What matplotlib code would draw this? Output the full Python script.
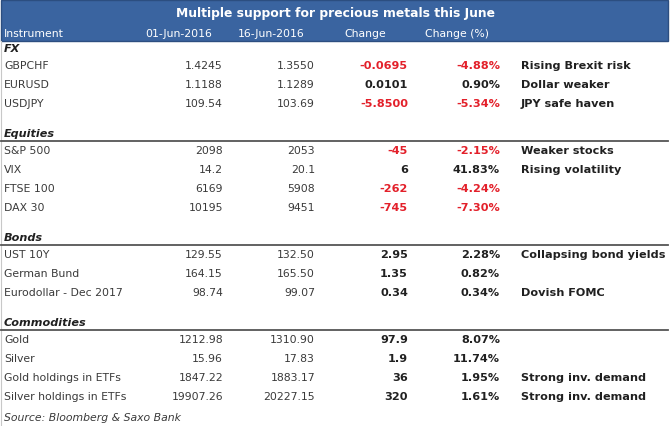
import matplotlib
matplotlib.use("Agg")
import matplotlib.pyplot as plt

title = "Multiple support for precious metals this June"
col_headers = ["Instrument", "01-Jun-2016", "16-Jun-2016", "Change", "Change (%)"]
source = "Source: Bloomberg & Saxo Bank"

sections = ["FX", "Equities", "Bonds", "Commodities"]
instruments = [
    ["GBPCHF", "EURUSD", "USDJPY"],
    ["S&P 500", "VIX", "FTSE 100", "DAX 30"],
    ["UST 10Y", "German Bund", "Eurodollar - Dec 2017"],
    ["Gold", "Silver", "Gold holdings in ETFs", "Silver holdings in ETFs"],
]
jun01 = [
    ["1.4245", "1.1188", "109.54"],
    ["2098", "14.2", "6169", "10195"],
    ["129.55", "164.15", "98.74"],
    ["1212.98", "15.96", "1847.22", "19907.26"],
]
jun16 = [
    ["1.3550", "1.1289", "103.69"],
    ["2053", "20.1", "5908", "9451"],
    ["132.50", "165.50", "99.07"],
    ["1310.90", "17.83", "1883.17", "20227.15"],
]
change = [
    ["-0.0695", "0.0101", "-5.8500"],
    ["-45", "6", "-262", "-745"],
    ["2.95", "1.35", "0.34"],
    ["97.9", "1.9", "36", "320"],
]
change_pct = [
    ["-4.88%", "0.90%", "-5.34%"],
    ["-2.15%", "41.83%", "-4.24%", "-7.30%"],
    ["2.28%", "0.82%", "0.34%"],
    ["8.07%", "11.74%", "1.95%", "1.61%"],
]
comments = [
    ["Rising Brexit risk", "Dollar weaker", "JPY safe haven"],
    ["Weaker stocks", "Rising volatility", "", ""],
    ["Collapsing bond yields", "", "Dovish FOMC"],
    ["", "", "Strong inv. demand", "Strong inv. demand"],
]

W, H = 670, 427
fig = plt.figure(figsize=(W / 100, H / 100), dpi=100)
ax = fig.add_axes([0, 0, 1, 1])
ax.set_xlim(0, W)
ax.set_ylim(H, 0)
ax.axis("off")

blue = "#3A64A0"
red = "#E3202A"
dark = "#202020"
regular = "#3A3A3A"
fs = 7.8
fsb = 8.1
family = "DejaVu Sans"

# header band
ax.add_patch(plt.Rectangle((1, 1), 667, 41, facecolor=blue, edgecolor="#2C4E80", lw=1.0))
ax.text(335, 14, title, ha="center", va="center", color="white", fontsize=8.9,
        fontweight="bold", family=family)

hx = [4, 179, 271, 365, 457]
for i, h in enumerate(col_headers):
    ax.text(hx[i], 34, h, ha="left" if i == 0 else "center", va="center",
            color="white", fontsize=fs, family=family)

# left border
ax.plot([1, 1], [42, 426], color="#C8C8C8", lw=0.8)

x_inst = 4
x_c1 = 223
x_c2 = 315
x_c3 = 408
x_c4 = 500
x_com = 521

sec_y = [49, 134, 238, 323]
row_h = 19
for s, name in enumerate(sections):
    y0 = sec_y[s]
    ax.text(x_inst, y0, name, ha="left", va="center", fontsize=fsb, fontweight="bold",
            fontstyle="italic", color=dark, family=family)
    if s > 0:
        ax.plot([1, 668], [y0 + 7.5, y0 + 7.5], color="#555555", lw=1.3)
    for r, inst in enumerate(instruments[s]):
        y = y0 + 17 + r * row_h
        ax.text(x_inst, y, inst, ha="left", va="center", fontsize=fs, color=regular, family=family)
        ax.text(x_c1, y, jun01[s][r], ha="right", va="center", fontsize=fs, color=regular, family=family)
        ax.text(x_c2, y, jun16[s][r], ha="right", va="center", fontsize=fs, color=regular, family=family)
        ch = change[s][r]
        col = red if ch.startswith("-") else dark
        ax.text(x_c3, y, ch, ha="right", va="center", fontsize=fsb, color=col,
                fontweight="bold", family=family)
        pc = change_pct[s][r]
        colp = red if pc.startswith("-") else dark
        ax.text(x_c4, y, pc, ha="right", va="center", fontsize=fsb, color=colp,
                fontweight="bold", family=family)
        if comments[s][r]:
            ax.text(x_com, y, comments[s][r], ha="left", va="center", fontsize=fsb,
                    fontweight="bold", color=dark, family=family)

ax.text(x_inst, 418, source, ha="left", va="center", fontsize=fs, fontstyle="italic",
        color=regular, family=family)

fig.savefig("out.png", dpi=100)
